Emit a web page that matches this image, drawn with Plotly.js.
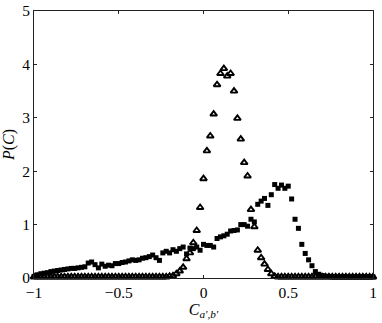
<!DOCTYPE html>
<html>
<head>
<meta charset="utf-8">
<script src="https://cdn.plot.ly/plotly-3.0.1.min.js"></script>
<style>
  html, body { margin: 0; padding: 0; background: #fff; }
  #chart { width: 382px; height: 323px; }
</style>
</head>
<body>
<div id="chart"></div>
<script>
// bin centres, step 0.02 from -1 to 1
var c_values = [];
for (let i = 0; i <= 100; i++) {
  c_values.push(Math.round((-1 + 0.02 * i) * 100) / 100);
}

// squares (broad distribution)
var p_squares = [
  0.03, 0.06, 0.08, 0.09, 0.10, 0.12, 0.13, 0.14, 0.15, 0.16,
  0.17, 0.18, 0.18, 0.19, 0.20, 0.21, 0.28, 0.30, 0.25, 0.19,
  0.26, 0.22, 0.24, 0.23, 0.27, 0.27, 0.29, 0.30, 0.32, 0.34,
  0.33, 0.34, 0.37, 0.38, 0.40, 0.43, 0.38, 0.33, 0.47, 0.50,
  0.47, 0.53, 0.50, 0.55, 0.58, 0.45, 0.56, 0.55, 0.58, 0.52,
  0.63, 0.61, 0.61, 0.58, 0.74, 0.77, 0.79, 0.82, 0.88, 0.89,
  0.90, 1.00, 1.00, 0.97, 1.10, 1.05, 1.38, 1.44, 1.49, 1.36,
  1.56, 1.75, 1.68, 1.74, 1.68, 1.72, 1.48, 1.10, 0.93, 0.63,
  0.46, 0.34, 0.23, 0.12, 0.07, 0.045, 0.03, 0.03, 0.02, 0.02,
  0.02, 0.02, 0.02, 0.02, 0.02, 0.02, 0.02, 0.02, 0.02, 0.02,
  0.02
];

// triangles (narrow peak)
var p_triangles = [
  0.02, 0.02, 0.02, 0.02, 0.02, 0.02, 0.02, 0.02, 0.02, 0.02,
  0.02, 0.02, 0.02, 0.02, 0.02, 0.02, 0.02, 0.02, 0.02, 0.02,
  0.02, 0.02, 0.02, 0.02, 0.02, 0.02, 0.02, 0.02, 0.02, 0.02,
  0.02, 0.02, 0.02, 0.02, 0.02, 0.02, 0.02, 0.02, 0.02, 0.02,
  0.03, 0.04, 0.08, 0.13, 0.20, 0.36, 0.47, 0.66, 0.89, 1.32,
  1.86, 2.38, 2.66, 3.07, 3.62, 3.83, 3.92, 3.78, 3.83, 3.50,
  2.99, 2.60, 2.16, 1.91, 1.28, 0.96, 0.52, 0.38, 0.26, 0.16,
  0.08, 0.03, 0.02, 0.02, 0.02, 0.02, 0.02, 0.02, 0.02, 0.02,
  0.02, 0.02, 0.02, 0.02, 0.02, 0.02, 0.02, 0.02, 0.02, 0.02,
  0.02, 0.02, 0.02, 0.02, 0.02, 0.02, 0.02, 0.02, 0.02, 0.02,
  0.02
];

var x_ticks = [-1, -0.5, 0, 0.5, 1];
var x_tick_labels = ['\u22121', '\u22120.5', '0', '0.5', '1'];
var y_ticks = [0, 1, 2, 3, 4, 5];

var serif = 'Liberation Serif, Times New Roman, serif';

var traces = [
  {
    x: c_values, y: p_squares,
    mode: 'markers', type: 'scatter',
    marker: { symbol: 'square', size: 5, color: '#000' },
    cliponaxis: false
  },
  {
    x: c_values, y: p_triangles,
    mode: 'markers', type: 'scatter',
    marker: { symbol: 'triangle-up-open', size: 6, color: '#000', line: { width: 1.9, color: '#000' } },
    cliponaxis: false
  }
];

var axis_common = {
  showgrid: false, zeroline: false,
  showline: true, mirror: 'ticks', linecolor: '#222', linewidth: 1,
  ticks: 'inside', ticklen: 3, tickcolor: '#222',
  tickfont: { family: serif, size: 15.5, color: '#000' }
};

var layout = {
  width: 382, height: 323,
  margin: { l: 34, r: 9, t: 11, b: 45 },
  paper_bgcolor: '#fff', plot_bgcolor: '#fff',
  showlegend: false,
  xaxis: Object.assign({}, axis_common, {
    range: [-1, 1],
    tickvals: x_ticks, ticktext: x_tick_labels,
    title: { text: "<i>C</i><sub><i>a',b'</i></sub>", font: { family: serif, size: 16, color: '#000' }, standoff: 2 }
  }),
  yaxis: Object.assign({}, axis_common, {
    range: [0, 5],
    tickvals: y_ticks,
    title: { text: '<i>P</i>(<i>C</i>)', font: { family: serif, size: 16, color: '#000' }, standoff: 5 }
  })
};

Plotly.newPlot('chart', traces, layout, { staticPlot: true, displayModeBar: false });
</script>
</body>
</html>
